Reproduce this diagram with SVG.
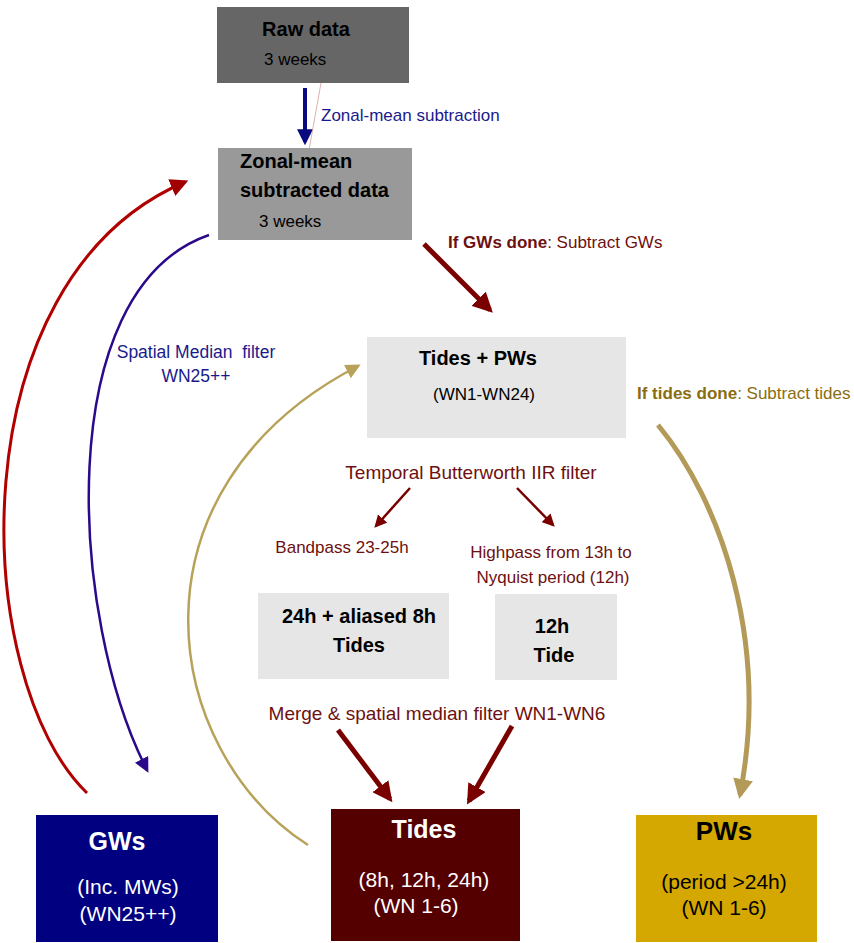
<svg xmlns="http://www.w3.org/2000/svg" width="854" height="943" viewBox="0 0 854 943">
<style>
text{font-family:"Liberation Sans",Arial,sans-serif}
.b{font-weight:bold}
.lbl{font-size:17px}
.dr{fill:#6e1010}
.nv{fill:#1a1a8c}
.ol{fill:#8a6d10}
</style>
<defs>
<marker id="mRed" viewBox="0 0 10 10" refX="8" refY="5" markerWidth="6" markerHeight="6" orient="auto" markerUnits="strokeWidth"><path d="M0,0L10,5L0,10z" fill="#a00000"/></marker>
<marker id="mNavy" viewBox="0 0 10 10" refX="8" refY="5" markerWidth="6" markerHeight="6" orient="auto" markerUnits="strokeWidth"><path d="M0,0L10,5L0,10z" fill="#2a0a8a"/></marker>
<marker id="mOl" viewBox="0 0 10 10" refX="8" refY="5" markerWidth="6" markerHeight="6" orient="auto" markerUnits="strokeWidth"><path d="M0,0L10,5L0,10z" fill="#b8a25a"/></marker>
<marker id="mOlT" viewBox="0 0 10 10" refX="8" refY="5" markerWidth="4" markerHeight="4" orient="auto" markerUnits="strokeWidth"><path d="M0,0L10,5L0,10z" fill="#b39a58"/></marker>
<marker id="mDR" viewBox="0 0 10 10" refX="8" refY="5" markerWidth="4" markerHeight="4" orient="auto" markerUnits="strokeWidth"><path d="M0,0L10,5L0,10z" fill="#7a0000"/></marker>
<marker id="mDRs" viewBox="0 0 10 10" refX="8" refY="5" markerWidth="5" markerHeight="5" orient="auto" markerUnits="strokeWidth"><path d="M0,0L10,5L0,10z" fill="#7a0000"/></marker>
<marker id="mBl" viewBox="0 0 10 10" refX="8" refY="5" markerWidth="4" markerHeight="4" orient="auto" markerUnits="strokeWidth"><path d="M0,0L10,5L0,10z" fill="#0a0a80"/></marker>
</defs>

<g id="connectors" fill="none">
<line x1="305" y1="88" x2="305" y2="142" stroke="#0a0a80" stroke-width="4" marker-end="url(#mBl)"/>
<line x1="321" y1="83" x2="309" y2="150" stroke="#d89a9a" stroke-width="0.8"/>
<line x1="424" y1="244" x2="490" y2="310" stroke="#7a0000" stroke-width="5" marker-end="url(#mDR)"/>
<path d="M658,425 C720,500 770,640 740,795" stroke="#b39a58" stroke-width="5" marker-end="url(#mOlT)"/>
<line x1="410" y1="488" x2="376" y2="526" stroke="#7a0000" stroke-width="2.5" marker-end="url(#mDRs)"/>
<line x1="517" y1="488" x2="553" y2="525" stroke="#7a0000" stroke-width="2.5" marker-end="url(#mDRs)"/>
<line x1="338" y1="730" x2="390" y2="799" stroke="#7a0000" stroke-width="5" marker-end="url(#mDR)"/>
<line x1="512" y1="726" x2="469" y2="801" stroke="#7a0000" stroke-width="5" marker-end="url(#mDR)"/>
<path d="M87,793 C-30,680 -45,280 185,182" stroke="#b00000" stroke-width="3" marker-end="url(#mRed)"/>
<path d="M209,235 C50,290 70,620 147,770" stroke="#2a0a8a" stroke-width="2.5" marker-end="url(#mNavy)"/>
<path d="M308,845 C160,750 120,490 358,366" stroke="#b8a25a" stroke-width="2.5" marker-end="url(#mOl)"/>
</g>

<g id="labels">
<text x="321" y="121" class="lbl nv" font-size="17.5">Zonal-mean subtraction</text>
<text x="448" y="248" class="lbl dr"><tspan class="b">If GWs done</tspan>: Subtract GWs</text>
<text x="637" y="399" class="lbl ol"><tspan class="b">If tides done</tspan>: Subtract tides</text>
<text x="196" y="358" class="nv" font-size="17.5" text-anchor="middle" xml:space="preserve">Spatial Median  filter</text>
<text x="196" y="382" class="nv" font-size="17.5" text-anchor="middle">WN25++</text>
<text x="471" y="479" class="dr" font-size="19" text-anchor="middle">Temporal Butterworth IIR filter</text>
<text x="342" y="553" class="lbl dr" text-anchor="middle">Bandpass 23-25h</text>
<text x="551" y="558" class="lbl dr" text-anchor="middle">Highpass from 13h to</text>
<text x="553" y="583" class="lbl dr" text-anchor="middle">Nyquist period (12h)</text>
<text x="437" y="720" class="dr" font-size="19" text-anchor="middle">Merge &amp; spatial median filter WN1-WN6</text>
</g>

<g id="raw">
<rect x="217" y="7" width="192" height="76" fill="#666666"/>
<text x="306" y="36" class="b" font-size="20" text-anchor="middle">Raw data</text>
<text x="264" y="65" font-size="17">3 weeks</text>
</g>

<g id="zonal">
<rect x="218" y="148" width="194" height="92" fill="#999999"/>
<text x="240" y="168" class="b" font-size="20">Zonal-mean</text>
<text x="240" y="197" class="b" font-size="20">subtracted data</text>
<text x="259" y="227" font-size="17">3 weeks</text>
</g>

<g id="tidespws">
<rect x="367" y="337" width="259" height="101" fill="#e6e6e6"/>
<text x="478" y="365" class="b" font-size="20" text-anchor="middle">Tides + PWs</text>
<text x="484" y="400" font-size="17" text-anchor="middle">(WN1-WN24)</text>
</g>

<g id="tides24">
<rect x="258" y="593" width="191" height="86" fill="#e6e6e6"/>
<text x="359" y="623" class="b" font-size="20" text-anchor="middle">24h + aliased 8h</text>
<text x="359" y="652" class="b" font-size="20" text-anchor="middle">Tides</text>
</g>

<g id="tide12">
<rect x="495" y="594" width="122" height="86" fill="#e6e6e6"/>
<text x="552" y="633" class="b" font-size="20" text-anchor="middle">12h</text>
<text x="554" y="662" class="b" font-size="20" text-anchor="middle">Tide</text>
</g>

<g id="gws">
<rect x="36" y="815" width="182" height="127" fill="#000080"/>
<text x="117" y="850" class="b" font-size="25" fill="#ffffff" text-anchor="middle">GWs</text>
<text x="128" y="894" font-size="21" fill="#ffffff" text-anchor="middle">(Inc. MWs)</text>
<text x="128" y="921" font-size="21" fill="#ffffff" text-anchor="middle">(WN25++)</text>
</g>

<g id="tides">
<rect x="331" y="809" width="189" height="132" fill="#550000"/>
<text x="424" y="838" class="b" font-size="25" fill="#ffffff" text-anchor="middle">Tides</text>
<text x="424" y="887" font-size="21" fill="#ffffff" text-anchor="middle">(8h, 12h, 24h)</text>
<text x="416" y="913" font-size="21" fill="#ffffff" text-anchor="middle">(WN 1-6)</text>
</g>

<g id="pws">
<rect x="636" y="815" width="181" height="127" fill="#d4a800"/>
<text x="724" y="840" class="b" font-size="26" text-anchor="middle">PWs</text>
<text x="724" y="889" font-size="21" text-anchor="middle">(period &gt;24h)</text>
<text x="724" y="915" font-size="21" text-anchor="middle">(WN 1-6)</text>
</g>
</svg>
